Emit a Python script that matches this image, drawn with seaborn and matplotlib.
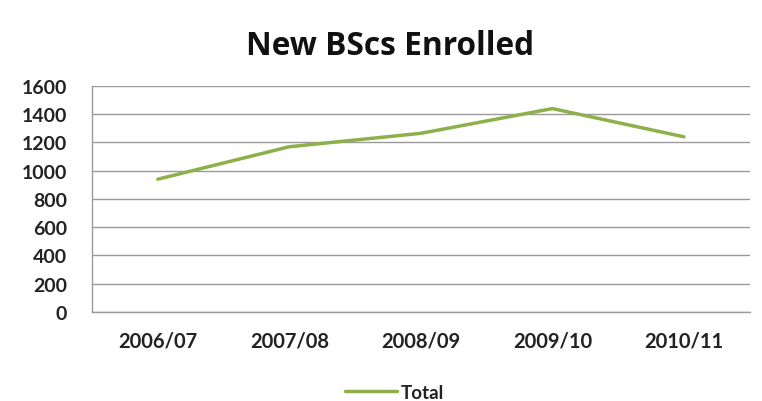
import matplotlib
matplotlib.use("Agg")
import matplotlib.pyplot as plt
import seaborn as sns
import pandas as pd

years = ["2006/07", "2007/08", "2008/09", "2009/10", "2010/11"]
total = [940, 1170, 1265, 1440, 1240]
yticks = [0, 200, 400, 600, 800, 1000, 1200, 1400, 1600]

sns.set_style("white")
plt.rcParams['font.family'] = ['Lato', 'DejaVu Sans']

df = pd.DataFrame({"Year": years, "Total": total})

fig = plt.figure(figsize=(7.62, 4.02), dpi=100)
ax = fig.add_axes([0.1207, 0.2214, 0.8633, 0.5622])
sns.lineplot(data=df, x="Year", y="Total", ax=ax, color="#8db04a", linewidth=2.5,
             sort=False, label="Total")
ax.set_xlim(-0.5, len(years) - 0.5)
ax.set_ylim(0, 1600)
ax.set_yticks(yticks)
ax.set_yticklabels([str(v) for v in yticks], fontsize=14, fontweight="bold", color="#222222")
ax.set_xticks(range(len(years)))
ax.set_xticklabels(years, fontsize=14.5, fontweight="bold", color="#222222")
ax.tick_params(axis="x", pad=13, length=0)
ax.tick_params(axis="y", pad=18, length=0)
ax.set_xlabel("")
ax.set_ylabel("")
ax.grid(axis="y", color="#9a9a9a", linewidth=1)
ax.set_axisbelow(True)
for s in ["top", "right"]:
    ax.spines[s].set_visible(False)
for s in ["left", "bottom"]:
    ax.spines[s].set_color("#9a9a9a")
    ax.spines[s].set_linewidth(1)

fig.text(0.512, 0.885, "New BScs Enrolled", ha="center", va="center",
         fontsize=22.8, fontweight="bold", color="#111111", family=["Open Sans", "DejaVu Sans"])

leg = ax.legend(loc="center", bbox_to_anchor=(0.46, -0.355), frameon=False,
                prop={"size": 13.5, "weight": "bold"}, handlelength=2.8, handletextpad=0.2)
for t in leg.get_texts():
    t.set_color("#222222")

fig.savefig("out.png", dpi=100, facecolor="white")
